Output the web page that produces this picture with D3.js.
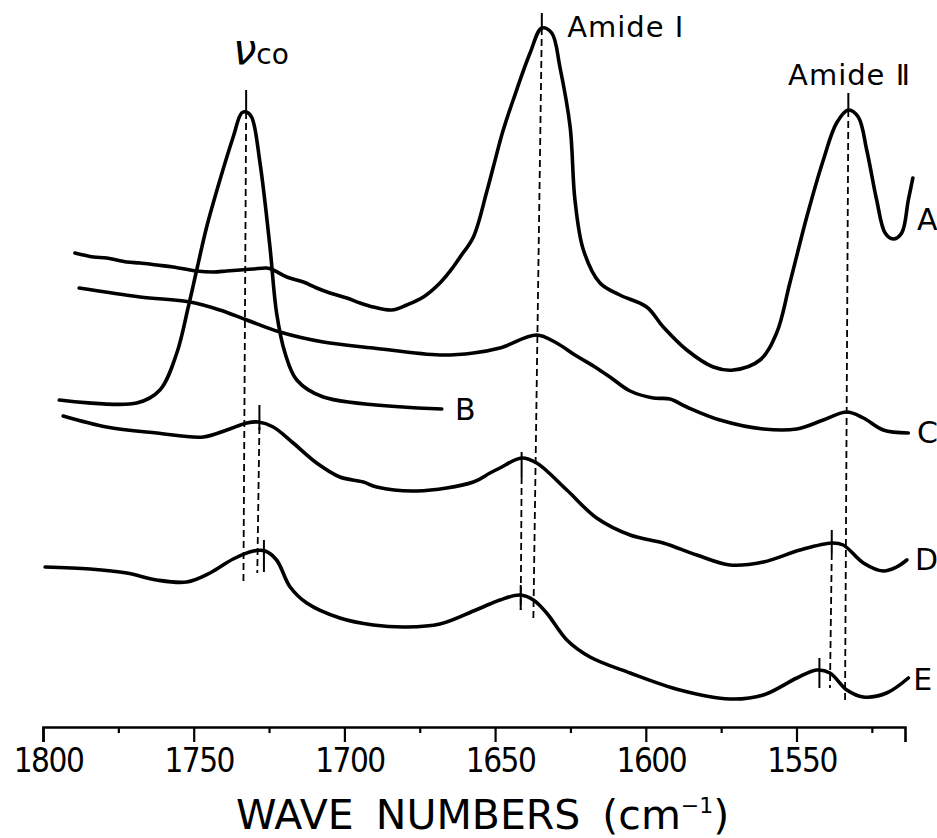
<!DOCTYPE html>
<html>
<head>
<meta charset="utf-8">
<script src="https://cdn.jsdelivr.net/npm/d3@7/dist/d3.min.js"></script>
<style>
  body { margin: 0; background: #fff; }
  svg { display: block; }
</style>
</head>
<body>
<div id="chart"></div>
<script>
// spectra: [wave number (cm-1), absorbance (arbitrary, offset)]
var specA = [
  [1789.4, 474], [1783.3, 470], [1778.9, 469], [1772.2, 465], [1767.8, 464],
  [1762.3, 462], [1756.8, 460], [1749.0, 456], [1743.5, 455], [1739.1, 456],
  [1734.6, 457], [1730.2, 458], [1725.8, 459], [1723.6, 457], [1719.1, 450],
  [1713.6, 445], [1709.2, 439], [1704.8, 434], [1699.2, 429], [1694.8, 424],
  [1690.4, 420], [1684.3, 417], [1679.3, 422], [1673.8, 430], [1668.3, 444],
  [1663.9, 460], [1661.6, 470], [1657.2, 490], [1652.8, 535], [1650.6, 560],
  [1647.4, 596], [1644.0, 627], [1638.4, 674], [1634.5, 699], [1631.2, 694],
  [1628.5, 660], [1625.1, 600], [1623.5, 527], [1620.7, 477], [1615.2, 444],
  [1608.6, 432], [1599.7, 420], [1594.2, 400], [1586.4, 377], [1577.6, 360],
  [1571.0, 357], [1562.1, 367], [1556.6, 394], [1552.2, 444], [1546.6, 510],
  [1541.1, 567], [1536.7, 604], [1532.8, 617], [1529.5, 610], [1526.7, 577],
  [1523.4, 527], [1520.6, 494], [1517.9, 488], [1515.1, 494], [1512.9, 527],
  [1511.4, 549]
];
var specB = [
  [1794.6, 327], [1768.9, 324], [1761.2, 337], [1755.6, 374], [1751.8, 420],
  [1749.0, 457], [1745.7, 500], [1741.3, 547], [1736.9, 590], [1734.1, 614],
  [1732.6, 615], [1730.8, 610], [1728.0, 564], [1724.7, 480], [1722.5, 414],
  [1719.7, 374], [1715.8, 347], [1707.0, 330], [1667.7, 318]
];
var specC = [
  [1788.0, 439], [1767.8, 430], [1751.2, 425], [1741.3, 417], [1732.4, 407],
  [1721.4, 395], [1707.0, 385], [1690.4, 379], [1668.3, 372], [1657.2, 374],
  [1648.4, 379], [1636.2, 392], [1629.6, 384], [1623.5, 372], [1617.4, 361],
  [1611.9, 350], [1605.2, 336], [1597.5, 329], [1592.0, 328], [1586.4, 320],
  [1575.4, 307], [1561.0, 298], [1549.9, 298], [1541.1, 307], [1533.3, 315],
  [1527.8, 309], [1521.2, 297], [1512.9, 294]
];
var specD = [
  [1793.3, 311], [1778.9, 300], [1762.3, 294], [1746.8, 290], [1739.0, 297],
  [1732.4, 304], [1728.6, 305], [1723.6, 300], [1717.0, 284], [1709.2, 264],
  [1701.5, 250], [1693.7, 245], [1689.3, 240], [1676.0, 236], [1657.2, 245],
  [1651.7, 254], [1648.4, 259], [1641.2, 269], [1636.2, 264], [1626.2, 237],
  [1616.3, 209], [1605.2, 192], [1594.2, 184], [1583.1, 172], [1572.1, 162],
  [1561.0, 165], [1548.8, 177], [1538.3, 184], [1534.5, 182], [1527.8, 164],
  [1521.2, 156], [1516.8, 160], [1513.4, 167]
];
var specE = [
  [1799.3, 160], [1784.4, 158], [1772.2, 154], [1762.3, 147], [1752.3, 145],
  [1744.6, 154], [1736.9, 168], [1730.2, 176], [1726.3, 176], [1722.5, 167],
  [1718.0, 140], [1712.5, 124], [1701.5, 109], [1690.4, 102], [1679.3, 100],
  [1668.3, 103], [1657.2, 116], [1651.7, 123], [1648.4, 127], [1641.7, 132],
  [1637.3, 127], [1632.9, 114], [1626.2, 87], [1618.5, 70], [1605.2, 54],
  [1588.7, 37], [1572.1, 28], [1561.0, 32], [1549.9, 49], [1543.3, 57],
  [1538.9, 54], [1533.3, 37], [1527.8, 30], [1520.1, 34], [1512.9, 49]
];
var spectra = [specA, specB, specC, specD, specE];

// peak markers: [wave number, top, bottom]
var peakTicks = [
  [1732.6, 637, 615], [1634.5, 714, 699], [1532.8, 634, 617],
  [1728.2, 322, 297], [1726.7, 187, 155],
  [1641.2, 275, 250], [1641.5, 142, 117],
  [1538.3, 197, 174], [1542.4, 69, 39]
];
// dashed guides: [wave number top, top, wave number bottom, bottom]
var guides = [
  [1732.6, 615, 1733.5, 145],
  [1728.2, 300, 1728.9, 154],
  [1634.5, 699, 1637.3, 109],
  [1641.2, 250, 1641.5, 117],
  [1538.3, 174, 1538.9, 39],
  [1532.8, 617, 1533.9, 24]
];

var tickValues = [1800, 1775, 1750, 1725, 1700, 1675, 1650, 1625, 1600, 1575, 1550, 1525];
var curveNames = ["A", "B", "C", "D", "E"];
var curveNameAt = [[1510.0, 497], [1663.3, 307], [1510.0, 284], [1510.7, 157], [1511.3, 37]];

function init() {
  var w = 937;
  var h = 838;
  var axisY = 727;
  var font = "'DejaVu Sans', sans-serif";

  var xScale = d3.scaleLinear()
    .domain([1800, 1514])
    .range([43, 905]);
  var yScale = d3.scaleLinear()
    .domain([0, 727])
    .range([axisY, 0]);

  var svg = d3.select("#chart")
    .append("svg")
    .attr("width", w)
    .attr("height", h);

  var line = d3.line()
    .x(function(d) { return xScale(d[0]); })
    .y(function(d) { return yScale(d[1]); })
    .curve(d3.curveCatmullRom.alpha(0.5));

  // dashed guides first so the spectra sit on top
  svg.selectAll(".guide")
    .data(guides)
    .enter()
    .append("line")
    .attr("class", "guide")
    .attr("x1", function(d) { return xScale(d[0]); })
    .attr("y1", function(d) { return yScale(d[1]); })
    .attr("x2", function(d) { return xScale(d[2]); })
    .attr("y2", function(d) { return yScale(d[3]); })
    .attr("stroke", "#000")
    .attr("stroke-width", 1.8)
    .attr("stroke-dasharray", "7,4");

  svg.selectAll(".peak")
    .data(peakTicks)
    .enter()
    .append("line")
    .attr("class", "peak")
    .attr("x1", function(d) { return xScale(d[0]); })
    .attr("x2", function(d) { return xScale(d[0]); })
    .attr("y1", function(d) { return yScale(d[1]); })
    .attr("y2", function(d) { return yScale(d[2]); })
    .attr("stroke", "#000")
    .attr("stroke-width", 2);

  svg.selectAll(".spectrum")
    .data(spectra)
    .enter()
    .append("path")
    .attr("class", "spectrum")
    .attr("d", line)
    .attr("fill", "none")
    .attr("stroke", "#000")
    .attr("stroke-width", 3.6)
    .attr("stroke-linecap", "round")
    .attr("stroke-linejoin", "round");

  svg.selectAll(".name")
    .data(curveNames)
    .enter()
    .append("text")
    .attr("class", "name")
    .attr("x", function(d, i) { return xScale(curveNameAt[i][0]); })
    .attr("y", function(d, i) { return yScale(curveNameAt[i][1]); })
    .attr("font-family", font)
    .attr("font-size", 30)
    .text(function(d) { return d; });

  // band labels
  svg.append("text")
    .attr("x", xScale(1626.1))
    .attr("y", yScale(690.5))
    .attr("font-family", font)
    .attr("font-size", 29)
    .attr("letter-spacing", 1)
    .text("Amide Ⅰ");
  svg.append("text")
    .attr("x", xScale(1552.8))
    .attr("y", yScale(642))
    .attr("font-family", font)
    .attr("font-size", 29)
    .attr("letter-spacing", 1)
    .text("Amide Ⅱ");
  var nu = svg.append("text")
    .attr("x", xScale(1737))
    .attr("y", yScale(663))
    .attr("font-family", font);
  nu.append("tspan")
    .attr("font-size", 42)
    .attr("font-style", "italic")
    .text("ν");
  nu.append("tspan")
    .attr("font-size", 28)
    .text("co");

  var xAxis = d3.axisBottom(xScale)
    .tickValues(tickValues)
    .tickSizeOuter(0)
    .tickSize(15)
    .tickFormat(function(d) { return d % 50 === 0 ? d : ""; });

  var gx = svg.append("g")
    .attr("transform", "translate(0," + axisY + ")")
    .call(xAxis);
  gx.select(".domain")
    .attr("stroke-width", 2.6);
  gx.selectAll(".tick line")
    .attr("stroke-width", 2.2)
    .attr("y2", function(d) { return d % 50 === 0 ? 15 : 6; });
  gx.selectAll(".tick text")
    .attr("font-family", "'DejaVu Sans Condensed', 'DejaVu Sans', sans-serif")
    .attr("font-size", 33)
    .attr("letter-spacing", -1.5)
    .attr("fill", "#000")
    .attr("y", 45)
    .attr("dy", 0)
    .attr("dx", 5);

  var title = svg.append("text")
    .attr("x", 236)
    .attr("y", 829)
    .attr("font-family", font)
    .attr("font-size", 41)
    .attr("word-spacing", 9)
    .text("WAVE NUMBERS (cm");
  title.append("tspan")
    .attr("font-size", 22)
    .attr("dy", -16)
    .text("−1");
  title.append("tspan")
    .attr("font-size", 41)
    .attr("dy", 16)
    .text(")");
}

window.onload = init;
</script>
</body>
</html>
